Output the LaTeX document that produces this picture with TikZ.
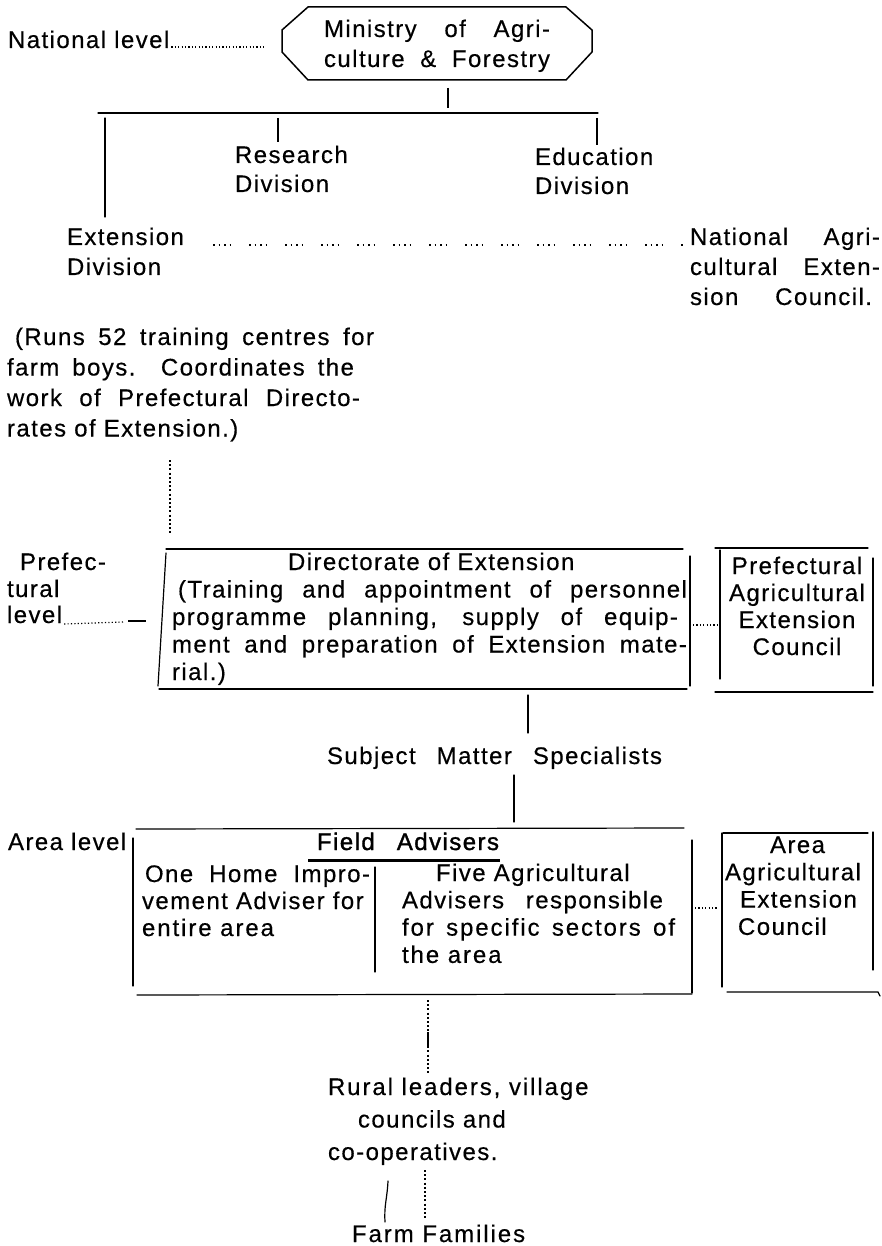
\documentclass[tikz,border=0pt]{standalone}
\usepackage{fontspec}
\setmainfont{Liberation Sans}[LetterSpace=6,FakeBold=0.4]
\newfontfamily\widefont{Liberation Sans}[LetterSpace=8,FakeBold=0.4]
\newfontfamily\medfont{Liberation Sans}[LetterSpace=6,FakeBold=1.4]
\begin{document}
\begin{tikzpicture}[x=1pt,y=-1pt,
  txt/.style={inner sep=0pt, outer sep=0pt, anchor=base west, align=left,
              font=\fontsize{24}{28}\selectfont},
  lsk/.style={font=\fontsize{24}{#1}\selectfont},
  ln/.style={line width=1.2pt, line cap=round},
  frame/.style={line width=1.5pt, line join=round},
  tick/.style={line width=2.2pt},
  lead/.style={line width=1.2pt, dash pattern=on 1.2pt off 2.2pt},
  grp/.style={line width=1.2pt, dash pattern=on 1.5pt off 4pt on 1.5pt off 4pt on 1.5pt off 4pt on 1.5pt off 18pt},
  vdots/.style={line width=1.4pt, dash pattern=on 2pt off 2.2pt}]
\useasboundingbox (0,0) rectangle (882,1246);
\fill[white] (0,0) rectangle (882,1246);
% multi-line nodes are placed by the baseline of their last line

% ---------- national level ----------
\node[txt] (natl) at (8,48) {National level};
\coordinate (natlEnd) at (265,47);
\draw[lead] ([xshift=2pt,yshift=1pt]natl.base east) -- (natlEnd);

\node[txt, anchor=base, align=center, lsk=30] (min) at (437,67)
  {\makebox[226pt][s]{Ministry of Agri-}\\\makebox[226pt][s]{culture \& Forestry}};
\draw[frame] (308,7) -- (566,7) -- (592,30) -- (592,52) -- (566,80) -- (308,80)
  -- (282,52) -- (282,30) -- cycle;

\coordinate (minTickA) at (448,88);
\coordinate (minTickB) at (448,108);
\draw[tick] (minTickA) -- (minTickB);
\coordinate (barL) at (98,113);
\coordinate (barR) at (598,113);
\draw[ln] (barL) -- (barR);

\coordinate (extTop) at (105,118);
\coordinate (extBot) at (105,217);
\draw[ln] (extTop) -- (extBot);
\coordinate (resTop) at (278,118);
\coordinate (resBot) at (278,142);
\draw[tick] (resTop) -- (resBot);
\coordinate (eduTop) at (597,118);
\coordinate (eduBot) at (597,145);
\draw[tick] (eduTop) -- (eduBot);

\node[txt, lsk=29] (res) at (235,192) {Research\\Division};
\node[txt, lsk=29] (edu) at (535,194) {Education\\Division};
\node[txt, lsk=30] (ext) at (67,275) {Extension\\Division};
\node[txt, lsk=30] (nat) at (690,305)
  {\makebox[190pt][s]{National Agri-}\\\makebox[190pt][s]{cultural Exten-}\\\makebox[182pt][s]{sion Council.}};
\coordinate (grpL) at (213,245);
\coordinate (grpR) at (683,245);
\draw[grp] (grpL) -- (grpR);

\node[txt, lsk=30.5] (runs) at (7,436.5)
  {\hspace*{8pt}\makebox[359pt][s]{(Runs 52 training centres for}\\
   \makebox[347pt][s]{farm boys. Coordinates the}\\
   \makebox[353pt][s]{work of Prefectural Directo-}\\
   rates of Extension.)};
\coordinate (runsDotA) at (170,460);
\coordinate (runsDotB) at (170,535);
\draw[vdots] (runsDotA) -- (runsDotB);

% ---------- prefectural level ----------
\node[txt] (pref1) at (20,570) {Prefec-};
\node[txt] (pref2) at (7,597) {tural};
\node[txt] (pref3) at (7,623) {level};
\coordinate (prefDots) at (123,622);
\draw[lead] ([xshift=2pt,yshift=-1pt]pref3.base east) -- (prefDots);
\coordinate (prefDashA) at (128,621);
\coordinate (prefDashB) at (146,621);
\draw[tick] (prefDashA) -- (prefDashB);

\draw[ln] (166,549) -- (683,549);
\draw[ln] (690,556) -- (690,686);
\draw[ln] (159,689) -- (687,689);
\draw[ln] (166,553) -- (158,686);
\node[txt, lsk=27.5] (dir) at (172,680)
  {\hspace*{116pt}Directorate of Extension\\
   \hspace*{6pt}\makebox[509pt][s]{(Training and appointment of personnel}\\
   \makebox[506pt][s]{programme planning, supply of equip-}\\
   \makebox[515pt][s]{ment and preparation of Extension mate-}\\
   rial.)};

\coordinate (dirDotA) at (693,625);
\coordinate (dirDotB) at (717,625);
\draw[lead] (dirDotA) -- (dirDotB);

\draw[ln] (715,548) -- (868,548);
\draw[ln] (873,558) -- (873,686);
\draw[ln] (715,692) -- (873,692);
\draw[ln] (720,550) -- (720,679);
\node[txt, anchor=base, align=center, lsk=27] (pcouncil) at (797,655)
  {Prefectural\\Agricultural\\Extension\\Council};

% ---------- subject matter specialists ----------
\coordinate (smsTopA) at (528,695);
\coordinate (smsTopB) at (528,733);
\draw[ln] (smsTopA) -- (smsTopB);
\node[txt] (sms) at (327,764) {\makebox[335pt][s]{Subject Matter Specialists}};
\coordinate (smsBotA) at (514,775);
\coordinate (smsBotB) at (514,822);
\draw[ln] (smsBotA) -- (smsBotB);

% ---------- area level ----------
\node[txt] (area) at (8,850) {Area level};
\draw[ln] (136,829) -- (684,828);
\draw[ln] (133,838) -- (133,986);
\draw[ln] (692,840) -- (692,993);
\draw[ln] (137,995) -- (692,994);

\node[txt] (field) at (317,850) {\medfont\makebox[182pt][s]{Field Advisers}};
\draw[line width=3pt] (308,860) -- (500,860);

\node[txt, lsk=27] (home) at (142,936)
  {\hspace*{3pt}\makebox[225pt][s]{One Home Impro-}\\
   vement Adviser for\\
   {\widefont entire area}};
\draw[ln] (375,867) -- (375,972);
\node[txt, lsk=27.3] (five) at (402,962.9)
  {\hspace*{34pt}Five Agricultural\\
   \makebox[261pt][s]{Advisers responsible}\\
   {\widefont\makebox[273pt][s]{for specific sectors of}}\\
   {\widefont the area}};

\coordinate (areaDotA) at (695,908);
\coordinate (areaDotB) at (717,908);
\draw[lead] (areaDotA) -- (areaDotB);

\draw[ln] (723,833) -- (868,833);
\draw[ln] (873,832) -- (873,970);
\draw[ln] (722,833) -- (722,987);
\draw[ln] (727,992) -- (878,992) -- (880,996);
\node[txt, lsk=27.3] (acouncil) at (725,934.9)
  {\hspace*{45pt}Area\\Agricultural\\\hspace*{15pt}Extension\\\hspace*{13pt}Council};

% ---------- local level ----------
\coordinate (locA) at (428,1000);
\coordinate (locB) at (428,1073);
\draw[vdots] (locA) -- (locB);
\draw[line width=2.4pt] (428,1032) -- (428,1046);

\node[txt, lsk=32.5] (rural) at (328,1160)
  {\widefont Rural leaders, village\\
   \hspace*{30pt}councils and\\
   co-operatives.};

\coordinate (famA) at (388,1181);
\coordinate (famB) at (385,1222);
\draw[ln] (famA) .. controls (387,1200) and (384,1205) .. (famB);
\coordinate (famC) at (425,1170);
\coordinate (famD) at (425,1220);
\draw[vdots] (famC) -- (famD);
\node[txt] (farm) at (352,1242) {\widefont Farm Families};
\end{tikzpicture}
\end{document}
